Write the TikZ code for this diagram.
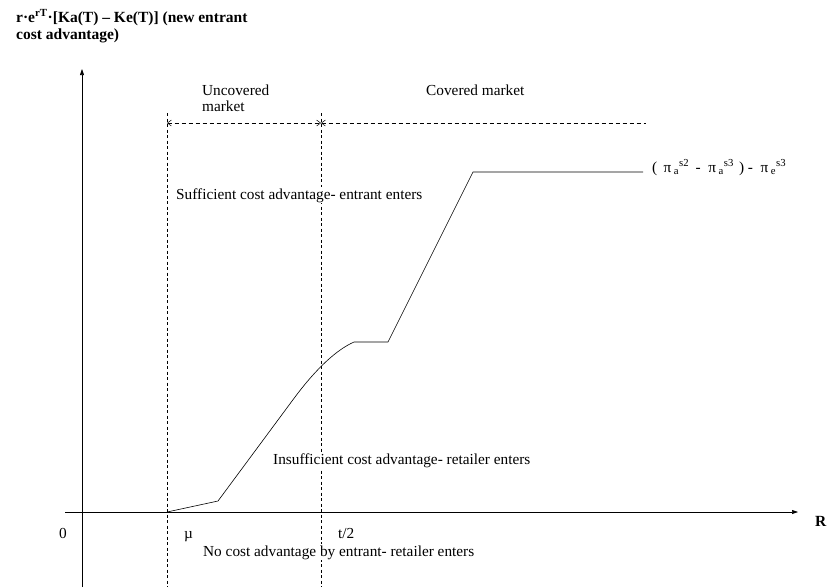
\documentclass[tikz,border=0pt]{standalone}
\usepackage{fontspec}
\setmainfont{Liberation Serif}
\usetikzlibrary{arrows.meta}
\begin{document}
\begin{tikzpicture}[x=1pt,y=-1pt,
  axis/.style={line width=0.6pt,-{Triangle[length=6pt,width=4pt]}},
  vdash/.style={line width=0.5pt,dash pattern=on 3pt off 2.5pt},
  harrow/.style={line width=0.5pt,dash pattern=on 4pt off 3pt},
  barb/.tip={Straight Barb[length=4pt,width=6pt,line width=0.5pt]},
  curve/.style={line width=0.6pt,line join=round},
  lbl/.style={font=\fontsize{15.3}{16}\selectfont,inner sep=1pt,fill=white},
  ttl/.style={font=\fontsize{15.5}{17}\selectfont\bfseries,inner sep=0pt,align=left}]
\useasboundingbox (0,0) rectangle (835,587);
% coordinates
\coordinate (yb) at (82,587);
\coordinate (yt) at (82,69);
\coordinate (xl) at (65,512);
\coordinate (xr) at (798,512);
\coordinate (d1t) at (167,113);
\coordinate (d1b) at (167,587);
\coordinate (d2t) at (321,113);
\coordinate (d2b) at (321,587);
\coordinate (a1) at (167,123);
\coordinate (a2) at (321,123);
\coordinate (a3) at (646,123);
% axes
\draw[axis] (yb) -- (yt);
\draw[axis] (xl) -- (xr);
% vertical dashed lines
\draw[vdash] (d1t) -- (d1b);
\draw[vdash] (d2t) -- (d2b);
% dashed range arrows
\draw[harrow,barb-barb] (a1) -- (a2);
\draw[harrow,barb-] (a2) -- (a3);
% curve
\coordinate (c0) at (167,512);
\coordinate (c1) at (218,501);
\coordinate (c2) at (295,397);
\coordinate (c3) at (354,342);
\coordinate (c4) at (388,342);
\coordinate (c5) at (473,172);
\coordinate (c6) at (643,172);
\draw[curve] (c0) -- (c1) -- (c2) .. controls (316,369) and (336,350) .. (c3) -- (c4) -- (c5) -- (c6);
% labels
\node[ttl,anchor=base west] (title) at (16,22) {r·e\textsuperscript{rT}·[Ka(T) – Ke(T)] (new entrant};
\node[ttl,anchor=base west] (title2) at (16,39) {cost advantage)};
\node[lbl,anchor=base west] (unc) at (201,95) {Uncovered};
\node[lbl,anchor=base west] (unc2) at (201,111) {market};
\node[lbl,anchor=base west] (cov) at (425,95) {Covered market};
\node[lbl,anchor=base west] (suf) at (175,199) {Sufficient cost advantage- entrant enters};
\node[lbl,anchor=base west] (ins) at (272,464) {Insufficient cost advantage- retailer enters};
\node[lbl,anchor=base west] (noc) at (202,556) {No cost advantage by entrant- retailer enters};
\node[lbl,anchor=base] (zero) at (63,538) {0};
\node[lbl,anchor=base west] (mu) at (183,538) {µ};
\node[lbl,anchor=base west] (t2) at (337,538) {t/2};
\node[lbl,anchor=base west,font=\fontsize{15.5}{16}\selectfont\bfseries] (R) at (814,526) {R};
\node[lbl,anchor=base west,fill=none] (pi) at (651,172) {(\ \,π\,\textsubscript{a}\textsuperscript{s2}\, -\ \ π\,\textsubscript{a}\textsuperscript{s3}\,\,) -\ \ π\,\textsubscript{e}\textsuperscript{s3}};
\end{tikzpicture}
\end{document}
